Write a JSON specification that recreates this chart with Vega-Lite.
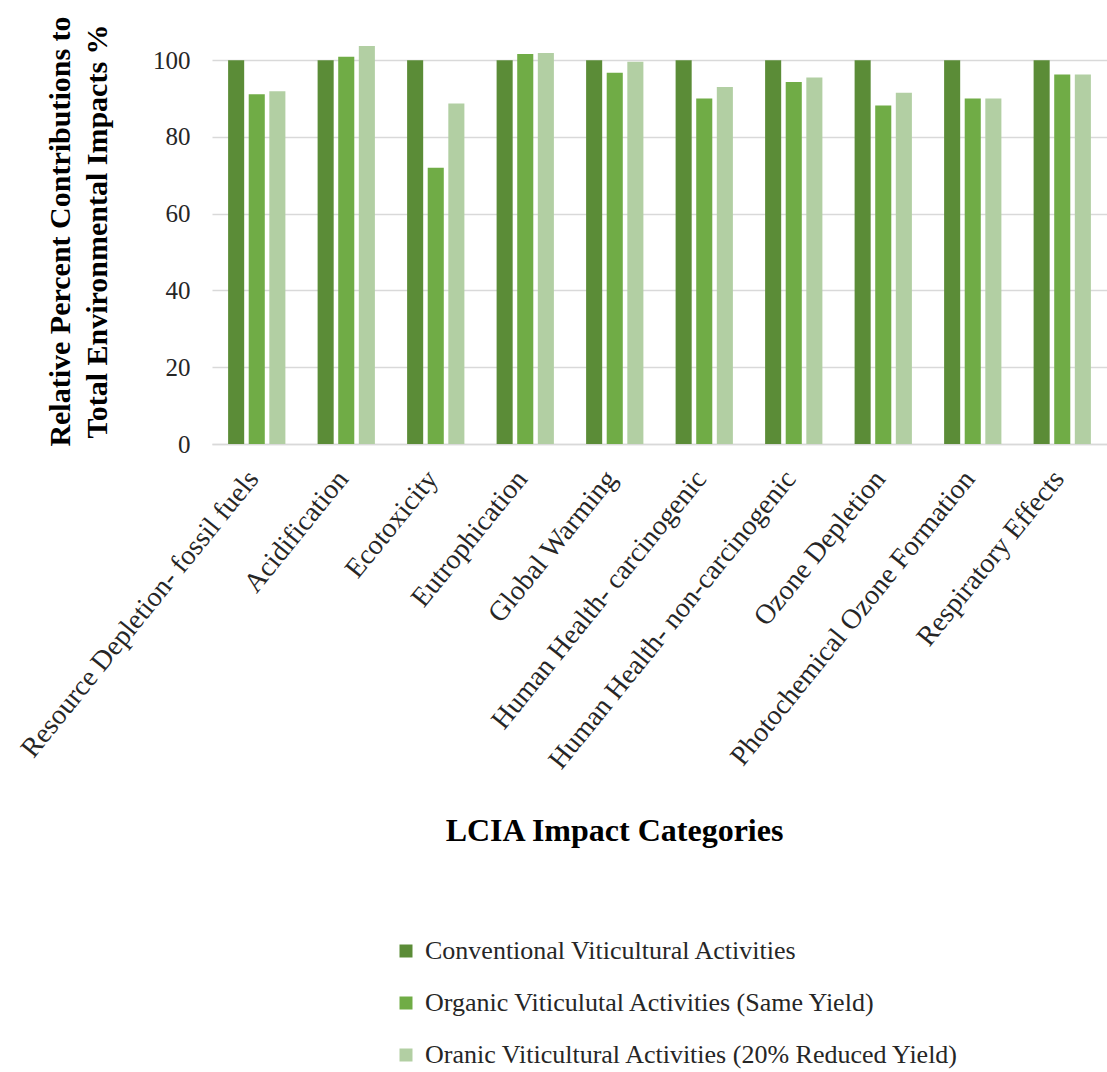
{
  "$schema": "https://vega.github.io/schema/vega-lite/v6.json",
  "autosize": "none",
  "width": 895,
  "height": 403,
  "padding": {"left": 212, "top": 41, "right": 0, "bottom": 628},
  "background": "white",
  "config": {
    "font": "Liberation Serif",
    "view": {"stroke": null}
  },
  "data": {
    "values": [
      {"cat": "Resource Depletion- fossil fuels", "series": "Conventional Viticultural Activities", "v": 100},
      {"cat": "Resource Depletion- fossil fuels", "series": "Organic Viticulutal Activities (Same Yield)", "v": 91.1},
      {"cat": "Resource Depletion- fossil fuels", "series": "Oranic Viticultural Activities (20% Reduced Yield)", "v": 91.9},
      {"cat": "Acidification", "series": "Conventional Viticultural Activities", "v": 100},
      {"cat": "Acidification", "series": "Organic Viticulutal Activities (Same Yield)", "v": 100.9},
      {"cat": "Acidification", "series": "Oranic Viticultural Activities (20% Reduced Yield)", "v": 103.7},
      {"cat": "Ecotoxicity", "series": "Conventional Viticultural Activities", "v": 100},
      {"cat": "Ecotoxicity", "series": "Organic Viticulutal Activities (Same Yield)", "v": 72.0},
      {"cat": "Ecotoxicity", "series": "Oranic Viticultural Activities (20% Reduced Yield)", "v": 88.7},
      {"cat": "Eutrophication", "series": "Conventional Viticultural Activities", "v": 100},
      {"cat": "Eutrophication", "series": "Organic Viticulutal Activities (Same Yield)", "v": 101.6},
      {"cat": "Eutrophication", "series": "Oranic Viticultural Activities (20% Reduced Yield)", "v": 101.9},
      {"cat": "Global Warming", "series": "Conventional Viticultural Activities", "v": 100},
      {"cat": "Global Warming", "series": "Organic Viticulutal Activities (Same Yield)", "v": 96.7},
      {"cat": "Global Warming", "series": "Oranic Viticultural Activities (20% Reduced Yield)", "v": 99.6},
      {"cat": "Human Health- carcinogenic", "series": "Conventional Viticultural Activities", "v": 100},
      {"cat": "Human Health- carcinogenic", "series": "Organic Viticulutal Activities (Same Yield)", "v": 90.0},
      {"cat": "Human Health- carcinogenic", "series": "Oranic Viticultural Activities (20% Reduced Yield)", "v": 93.0},
      {"cat": "Human Health- non-carcinogenic", "series": "Conventional Viticultural Activities", "v": 100},
      {"cat": "Human Health- non-carcinogenic", "series": "Organic Viticulutal Activities (Same Yield)", "v": 94.3},
      {"cat": "Human Health- non-carcinogenic", "series": "Oranic Viticultural Activities (20% Reduced Yield)", "v": 95.5},
      {"cat": "Ozone Depletion", "series": "Conventional Viticultural Activities", "v": 100},
      {"cat": "Ozone Depletion", "series": "Organic Viticulutal Activities (Same Yield)", "v": 88.2},
      {"cat": "Ozone Depletion", "series": "Oranic Viticultural Activities (20% Reduced Yield)", "v": 91.5},
      {"cat": "Photochemical Ozone Formation", "series": "Conventional Viticultural Activities", "v": 100},
      {"cat": "Photochemical Ozone Formation", "series": "Organic Viticulutal Activities (Same Yield)", "v": 90.0},
      {"cat": "Photochemical Ozone Formation", "series": "Oranic Viticultural Activities (20% Reduced Yield)", "v": 90.0},
      {"cat": "Respiratory Effects", "series": "Conventional Viticultural Activities", "v": 100},
      {"cat": "Respiratory Effects", "series": "Organic Viticulutal Activities (Same Yield)", "v": 96.3},
      {"cat": "Respiratory Effects", "series": "Oranic Viticultural Activities (20% Reduced Yield)", "v": 96.3}
    ]
  },
  "mark": {"type": "bar"},
  "encoding": {
    "x": {
      "field": "cat",
      "type": "nominal",
      "sort": null,
      "scale": {"paddingInner": 0.36, "paddingOuter": 0.18},
      "axis": {
        "title": "LCIA Impact Categories",
        "titleFont": "Liberation Serif",
        "titleFontSize": 32,
        "titleFontWeight": "bold",
        "titleColor": "black",
        "titleX": 402,
        "titleY": 386,
        "titleBaseline": "middle",
        "labelAngle": -51,
        "labelAlign": "right",
        "labelBaseline": "middle",
        "labelFont": "Liberation Serif",
        "labelFontSize": 28,
        "labelColor": "#262626",
        "labelPadding": 30,
        "labelOffset": -3,
        "labelLimit": 600,
        "ticks": false,
        "domainColor": "#d9d9d9",
        "domainWidth": 1.5,
        "grid": false
      }
    },
    "xOffset": {"field": "series", "type": "nominal", "sort": null, "scale": {"paddingInner": 0.22}},
    "y": {
      "field": "v",
      "type": "quantitative",
      "scale": {"domain": [0, 105], "nice": false},
      "axis": {
        "values": [0, 20, 40, 60, 80, 100],
        "title": ["Relative Percent Contributions to", "Total Environmental Impacts  %"],
        "titleFont": "Liberation Serif",
        "titleFontSize": 30,
        "titleFontWeight": "bold",
        "titleColor": "black",
        "titleLineHeight": 37,
        "titleX": -152,
        "titleY": 190,
        "titleBaseline": "middle",
        "labelFont": "Liberation Serif",
        "labelFontSize": 25,
        "labelColor": "#262626",
        "labelPadding": 22,
        "ticks": false,
        "domain": false,
        "grid": true,
        "gridColor": "#d9d9d9",
        "gridWidth": 1.5
      }
    },
    "color": {
      "field": "series",
      "type": "nominal",
      "sort": null,
      "scale": {
        "domain": ["Conventional Viticultural Activities", "Organic Viticulutal Activities (Same Yield)", "Oranic Viticultural Activities (20% Reduced Yield)"],
        "range": ["#5b8c37", "#70ac46", "#b2cfa3"]
      },
      "legend": {
        "orient": "none",
        "legendX": 181,
        "legendY": 897,
        "title": null,
        "symbolType": "square",
        "symbolSize": 169,
        "symbolStrokeWidth": 0,
        "labelFont": "Liberation Serif",
        "labelFontSize": 26,
        "labelColor": "#262626",
        "labelLimit": 700,
        "rowPadding": 26,
        "labelOffset": 6
      }
    }
  }
}
